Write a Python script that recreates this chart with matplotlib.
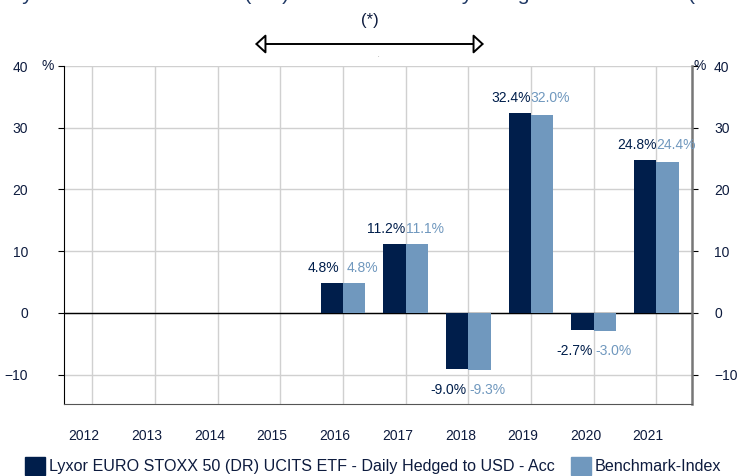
import numpy as np
import matplotlib
matplotlib.use("Agg")
from matplotlib import pyplot as plt
from matplotlib.patches import Patch
import matplotlib.transforms as mtrans

plt.rcParams['font.family'] = ['Liberation Sans', 'DejaVu Sans']

# データ
years = ['2012', '2013', '2014', '2015', '2016', '2017', '2018', '2019', '2020', '2021']
fund = [np.nan, np.nan, np.nan, np.nan, 4.8, 11.2, -9.0, 32.4, -2.7, 24.8]
bench = [np.nan, np.nan, np.nan, np.nan, 4.8, 11.1, -9.3, 32.0, -3.0, 24.4]
fund_name = 'Lyxor EURO STOXX 50 (DR) UCITS ETF - Daily Hedged to USD - Acc'
bench_name = 'Benchmark-Index'
title_txt = 'Lyxor EURO STOXX 50 (DR) UCITS ETF - Daily Hedged to USD - Acc (USD)'

c_fund = '#001e4b'
c_bench = '#7098be'
c_text = '#0d1b3e'

fig = plt.figure(figsize=(7.37, 4.76), dpi=100)
ax = fig.add_axes([64/737, 1-404/476, (692-64)/737, (404-66)/476])

x = np.arange(len(years))
w = 0.355

# グリッド
ax.set_axisbelow(True)
ax.grid(True, color='#d0d0d0', lw=1)
ax.axhline(0, color='black', lw=1, zorder=2)

ax.bar(x - w/2, fund, w, color=c_fund, zorder=3)
ax.bar(x + w/2, bench, w, color=c_bench, zorder=3)

# ラベル（棒の中心から少しずらす）
for i in range(len(years)):
    f = fund[i]
    b = bench[i]
    if np.isnan(f):
        continue
    if f >= 0:
        y = max(f, b)
        dy = 11
    else:
        y = min(f, b)
        dy = -14
    ax.annotate('{:.1f}%'.format(f), (x[i] - w/2, y), xytext=(-6, dy), textcoords='offset points',
                ha='center', va='center', fontsize=10, color=c_fund)
    ax.annotate('{:.1f}%'.format(b), (x[i] + w/2, y), xytext=(6, dy), textcoords='offset points',
                ha='center', va='center', fontsize=10, color=c_bench)

ax.set_xlim(-0.45, 9.57)
ax.set_ylim(-14.75, 40)
ax.set_xticks(x)
ax.set_xticklabels(years)
ax.set_yticks([-10, 0, 10, 20, 30, 40])
ax.tick_params(axis='x', length=0, pad=18, labelsize=10, labelcolor=c_text)
ax.tick_params(axis='y', direction='out', length=4, labelsize=10, labelcolor=c_text,
               left=True, right=True, labelleft=True, labelright=True, pad=22)
# 右側のラベル位置
for t in ax.yaxis.get_major_ticks():
    t.label2.set_transform(t.label2.get_transform() +
                           mtrans.ScaledTranslation(-14/100, 0, fig.dpi_scale_trans))

off = mtrans.ScaledTranslation(-8/100, 0, fig.dpi_scale_trans)
for lab in ax.get_xticklabels():
    lab.set_transform(lab.get_transform() + off)

ax.spines['top'].set_visible(False)
ax.spines['left'].set_color('black')
ax.spines['bottom'].set_color('#555555')
ax.spines['right'].set_color('#777777')
ax.spines['right'].set_linewidth(1.8)

ax.text(-0.0255, 1.0, '%', transform=ax.transAxes, ha='center', va='center', fontsize=10, color=c_text)
ax.text(1.002, 1.0, '%', transform=ax.transAxes, ha='left', va='center', fontsize=10, color=c_text)

# タイトル（上が切れている）
fig.text(11/737, 1.0, title_txt, ha='left', va='baseline', fontsize=15.4, color='#1f3864')
fig.text(370/737, 1-20/476, '(*)', ha='center', va='center', fontsize=12, color=c_text)
ax.annotate('', xy=(255/737, 1-44/476), xytext=(484/737, 1-44/476),
            xycoords='figure fraction', textcoords='figure fraction',
            arrowprops=dict(arrowstyle='<|-|>,head_length=0.65,head_width=0.6',
                            fc='white', ec='black', lw=1.4, shrinkA=0, shrinkB=0))
fig.text(378/737, 1-57/476, '.', ha='center', va='baseline', fontsize=4, color='#555555')

handles = [Patch(color=c_fund), Patch(color=c_bench)]
fig.legend(handles, [fund_name, bench_name], loc='center', bbox_to_anchor=(0.506, 1-466/476),
           ncol=2, frameon=False, fontsize=11.6, handlelength=1.25, handleheight=1.25,
           handletextpad=0.25, columnspacing=1.0, labelcolor=c_text)

fig.savefig('out.png', dpi=100)
